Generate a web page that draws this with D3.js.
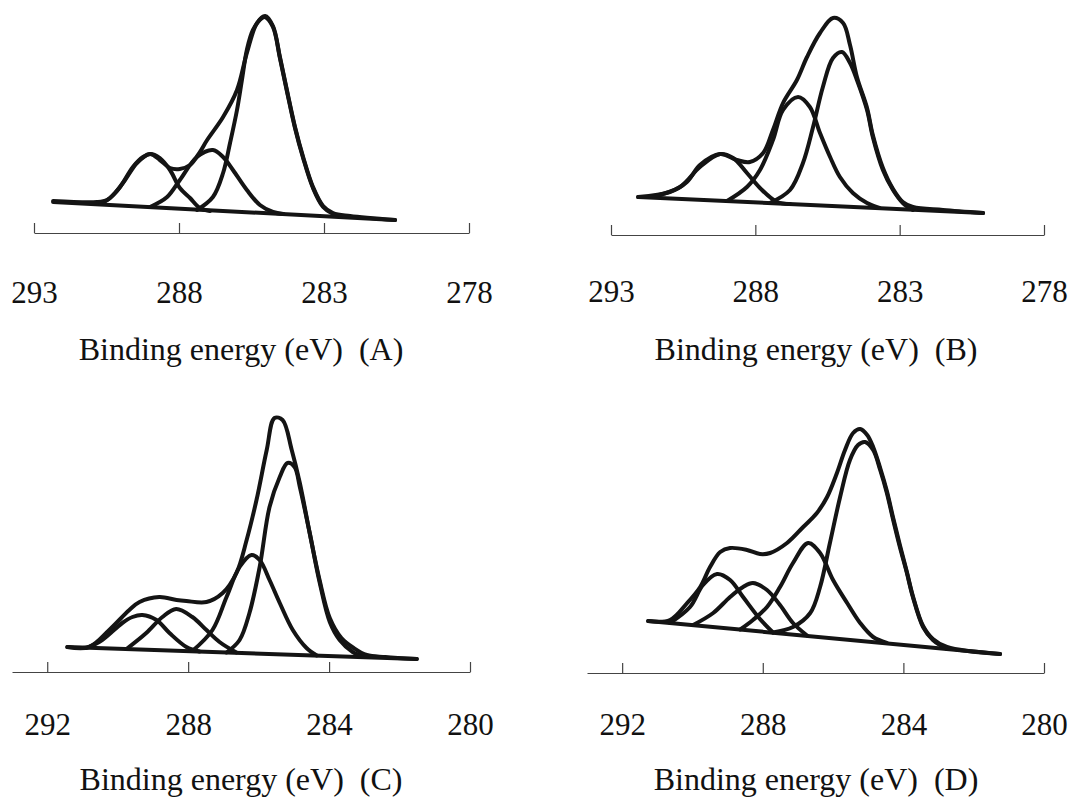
<!DOCTYPE html>
<html>
<head>
  <meta charset="utf-8">
  <title>XPS C1s curve fitting</title>
  <script src="https://cdn.jsdelivr.net/npm/d3@7/dist/d3.min.js"></script>
  <style>
    body { margin: 0; background: #fff; }
    svg { display: block; }
    .curve {
      fill: none;
      stroke: #141414;
      stroke-width: 4;
      stroke-linejoin: round;
      stroke-linecap: round;
    }
    .axis path, .axis line {
      stroke: #444;
      stroke-width: 1.2;
    }
    .axis text {
      font-family: 'Liberation Serif', 'Times New Roman', serif;
      font-size: 31px;
      fill: #111;
    }
    text.title {
      font-family: 'Liberation Serif', 'Times New Roman', serif;
      font-size: 32px;
      fill: #111;
      white-space: pre;
    }
  </style>
</head>
<body>
  <svg id="chart" width="1072" height="799"></svg>
  <script>
    // [binding energy (eV), intensity (a.u.)]
    var topTicks = [293, 288, 283, 278];
    var bottomTicks = [292, 288, 284, 280];

    var aEnvelope = [[292.34,32],[290.83,31],[290.48,33],[290.21,40],[289.86,53],[289.45,70],[289.0,79],[288.66,73],[288.31,65],[287.97,64],[287.62,68],[287.28,81],[287.03,93],[286.48,116],[286.0,143],[285.66,180],[285.31,210],[285.03,217],[284.76,207],[284.52,176],[284.28,143],[284.0,106],[283.72,76],[283.38,46],[283.03,27],[282.69,20],[282.1,17],[280.55,13]];
    var aPeak1 = [[290.72,29],[290.38,35],[290.03,46],[289.59,66],[289.24,76],[289.0,79],[288.66,75],[288.31,63],[287.97,45],[287.62,35],[287.28,25],[286.93,22]];
    var aPeak2 = [[289.0,26],[288.41,36],[287.97,53],[287.38,76],[286.83,83],[286.48,76],[286.14,63],[285.66,43],[285.21,28],[284.76,21],[284.4,19]];
    var aPeak3 = [[287.38,23],[286.83,36],[286.48,60],[286.24,90],[286.0,123],[285.83,153],[285.66,183],[285.45,203],[285.14,215],[285.03,216],[284.76,206],[284.52,175],[284.28,142],[284.0,105],[283.72,75],[283.38,45],[283.03,26],[282.69,19],[282.28,16]];
    var aBase = [[292.34,31],[280.55,13]];

    var bEnvelope = [[292.06,38],[290.96,43],[290.37,53],[289.92,70],[289.22,81],[288.64,75],[288.19,73],[287.73,82],[287.39,105],[287.04,132],[286.56,155],[286.21,178],[285.76,202],[285.31,217],[284.96,212],[284.72,190],[284.48,158],[284.13,127],[283.93,100],[283.58,67],[283.23,46],[282.89,33],[282.54,28],[281.5,25],[280.11,22]];
    var bPeak1 = [[291.6,38],[290.61,48],[289.92,68],[289.22,81],[288.77,77],[288.29,62],[287.84,47],[287.25,33],[286.8,31]];
    var bPeak2 = [[288.98,34],[288.29,48],[287.84,65],[287.39,95],[287.04,125],[286.52,138],[286.11,128],[285.76,102],[285.41,78],[285.07,58],[284.62,42],[284.13,32],[283.7,27]];
    var bPeak3 = [[287.5,32],[286.8,45],[286.35,72],[286.0,108],[285.66,148],[285.31,177],[285.0,183],[284.72,172],[284.48,155],[284.13,125],[283.93,98],[283.58,65],[283.23,45],[282.89,32],[282.54,25]];
    var bBase = [[292.06,38],[280.11,22]];

    var cEnvelope = [[291.43,25],[290.81,25],[290.24,42],[289.67,62],[289.38,70],[288.82,75],[288.33,72],[288.05,71],[287.48,70],[287.02,79],[286.63,99],[286.34,132],[286.06,172],[285.77,222],[285.55,254],[285.32,252],[285.06,222],[284.83,189],[284.55,139],[284.27,92],[283.98,54],[283.65,34],[283.3,24],[282.93,17],[282.4,15],[281.51,13]];
    var cPeak1 = [[290.89,24],[290.44,32],[289.87,49],[289.58,55],[289.3,57],[288.9,52],[288.53,39],[288.05,25],[287.68,20.5]];
    var cPeak2 = [[289.75,23],[289.19,39],[288.73,55],[288.34,63],[287.88,55],[287.48,42],[287.11,30],[286.63,19.5]];
    var cPeak3 = [[287.88,21],[287.31,42],[286.91,75],[286.54,105],[286.2,117],[285.97,112],[285.69,92],[285.4,69],[285.03,42],[284.64,24],[284.35,16.5]];
    var cPeak4 = [[286.91,19.5],[286.54,32],[286.26,59],[285.97,105],[285.69,165],[285.4,195],[285.18,209],[284.98,205],[284.83,185],[284.55,139],[284.27,90],[283.98,50],[283.7,32],[283.33,20],[283.0,15]];
    var cBase = [[291.43,25],[281.51,13]];

    var dEnvelope = [[291.26,52],[290.64,53],[290.15,70],[289.78,86],[289.5,106],[289.21,121],[288.93,125],[288.45,123],[288.08,119],[287.79,120],[287.31,130],[286.85,146],[286.46,160],[286.17,176],[285.89,200],[285.66,223],[285.43,240],[285.23,244],[285.03,238],[284.86,226],[284.66,205],[284.47,182],[284.29,155],[284.1,128],[283.9,101],[283.73,77],[283.44,47],[283.16,34],[282.76,26],[281.25,19]];
    var dPeak1 = [[290.64,50],[290.07,66],[289.7,88],[289.3,99],[288.93,93],[288.56,76],[288.08,54],[287.71,40.5]];
    var dPeak2 = [[289.98,48],[289.41,60],[288.93,76],[288.56,86],[288.28,90],[287.88,83],[287.51,68],[287.14,50],[286.74,37.5]];
    var dPeak3 = [[288.64,43.5],[288.28,53],[287.88,66],[287.51,86],[287.14,110],[286.71,130],[286.37,120],[286.0,93],[285.6,70],[285.23,50],[284.86,36],[284.47,30]];
    var dPeak4 = [[287.71,40.5],[287.14,46],[286.65,60],[286.37,86],[286.09,130],[285.8,176],[285.52,213],[285.29,228],[285.09,231],[284.86,223],[284.66,203],[284.47,180],[284.29,153],[284.1,126],[283.9,100],[283.73,76],[283.44,46],[283.16,33],[282.76,24]];
    var dBase = [[291.26,52],[281.25,19]];

    var panels = [
      { curves: [aBase, aPeak1, aPeak2, aPeak3, aEnvelope], domain: [293, 278], range: [34, 469], axisY: 233, ticks: topTicks, pad: 48, title: 'Binding energy (eV)  (A)', titleX: 241, titleY: 360 },
      { curves: [bBase, bPeak1, bPeak2, bPeak3, bEnvelope], domain: [293, 278], range: [611, 1044], axisY: 235, ticks: topTicks, pad: 45, title: 'Binding energy (eV)  (B)', titleX: 816, titleY: 360 },
      { curves: [cBase, cPeak1, cPeak2, cPeak3, cPeak4, cEnvelope], domain: [293, 280], range: [12, 470], axisY: 672, ticks: bottomTicks, pad: 41, title: 'Binding energy (eV)  (C)', titleX: 241, titleY: 790 },
      { curves: [dBase, dPeak1, dPeak2, dPeak3, dPeak4, dEnvelope], domain: [293, 280], range: [587, 1044], axisY: 673, ticks: bottomTicks, pad: 40, title: 'Binding energy (eV)  (D)', titleX: 816, titleY: 790 }
    ];

    var svg = d3.select('#chart');

    panels.forEach(function (p) {
      var x = d3.scaleLinear().domain(p.domain).range(p.range);
      var y = d3.scaleLinear().domain([0, 250]).range([p.axisY, p.axisY - 250]);

      var line = d3.line()
        .x(d => x(d[0]))
        .y(d => y(d[1]))
        .curve(d3.curveCatmullRom.alpha(0.5));

      var g = svg.append('g');

      g.selectAll('path.curve')
        .data(p.curves)
        .enter()
        .append('path')
        .attr('class', 'curve')
        .attr('d', line);

      var xAxis = d3.axisBottom(x)
        .tickValues(p.ticks)
        .tickFormat(d3.format('d'))
        .tickSizeInner(-10)
        .tickSizeOuter(0)
        .tickPadding(p.pad);

      g.append('g')
        .attr('class', 'axis')
        .attr('transform', 'translate(0,' + p.axisY + ')')
        .call(xAxis);

      g.append('text')
        .attr('class', 'title')
        .attr('x', p.titleX)
        .attr('y', p.titleY)
        .attr('text-anchor', 'middle')
        .text(p.title);
    });
  </script>
</body>
</html>
